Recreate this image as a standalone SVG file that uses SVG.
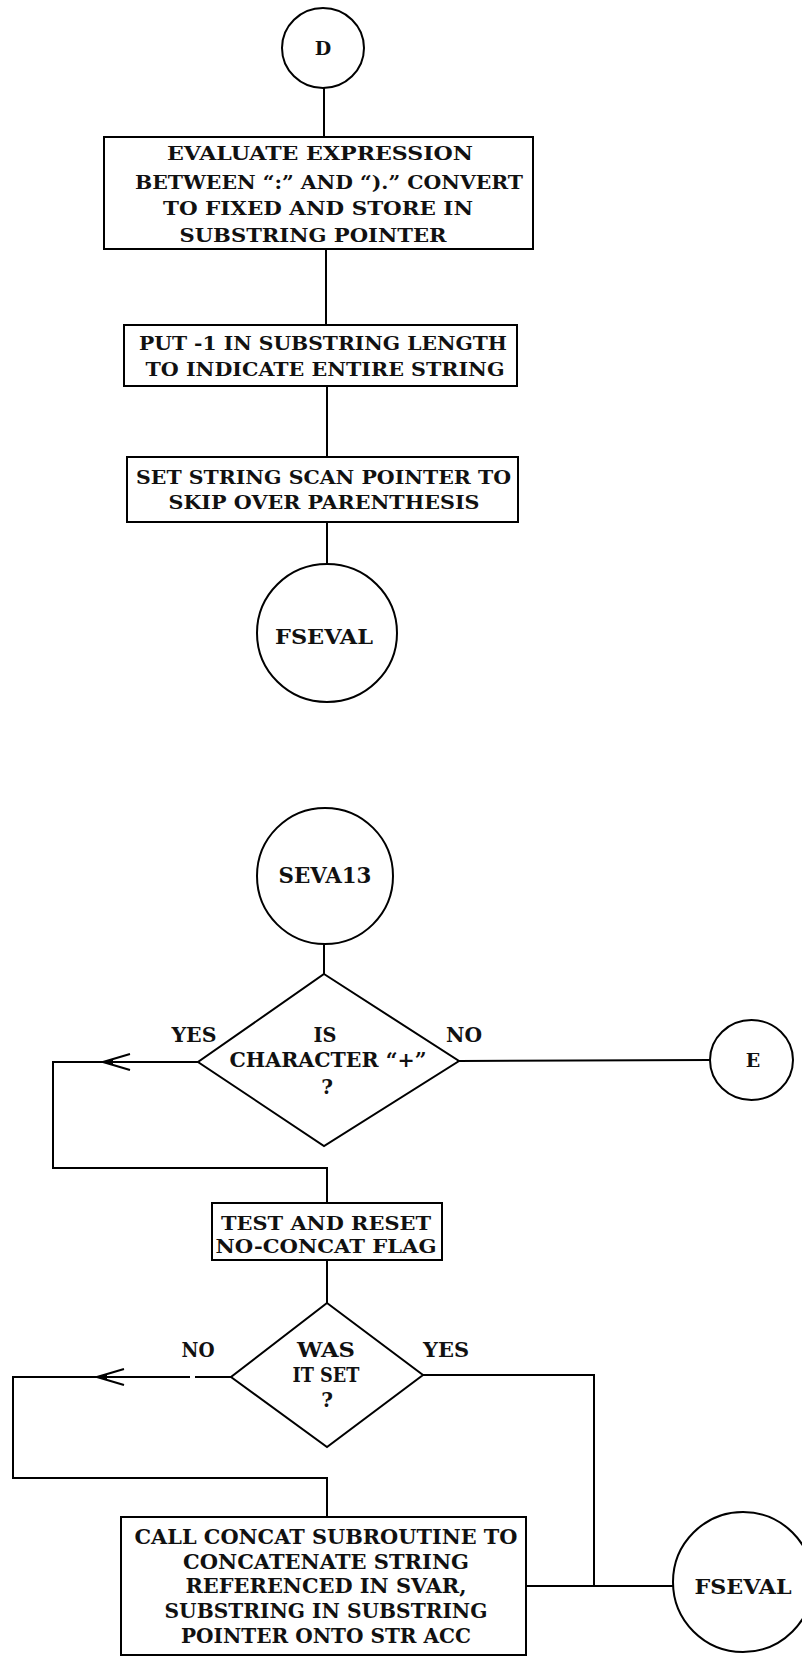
<svg xmlns="http://www.w3.org/2000/svg" width="802" height="1657" viewBox="0 0 802 1657">
<style>
.s{fill:none;stroke:#000;stroke-width:2}
.n{fill:#fff;stroke:#000;stroke-width:2}
text{font-family:"DejaVu Serif","Liberation Serif",serif;font-weight:bold;fill:#111;text-anchor:middle}
.t19{font-size:19px}
.t20{font-size:20px}
.t22{font-size:22px}
</style>
<defs>
<marker id="arr" markerUnits="userSpaceOnUse" markerWidth="30" markerHeight="20" viewBox="0 0 30 20" refX="28" refY="10" orient="auto">
<path d="M1,2 L28,10 L1,18" fill="none" stroke="#000" stroke-width="2"/>
<path d="M18,7 L28,10 L18,13 Z" fill="#000"/>
</marker>
</defs>
<rect x="0" y="0" width="802" height="1657" fill="#fff"/>
<g id="connectors">
<path class="s" d="M324,88 L324,137"/>
<path class="s" d="M326,249 L326,325"/>
<path class="s" d="M327,386 L327,457"/>
<path class="s" d="M327,522 L327,563"/>
<path class="s" d="M324,944 L324,974"/>
<path class="s" d="M198,1062 L103,1062" marker-end="url(#arr)"/>
<path class="s" d="M103,1062 L53,1062 L53,1168 L327,1168 L327,1203"/>
<path class="s" d="M459,1061 L710,1060"/>
<path class="s" d="M327,1260 L327,1303"/>
<path class="s" d="M231,1377 L195,1377"/>
<path class="s" d="M190,1377 L97,1377" marker-end="url(#arr)"/>
<path class="s" d="M97,1377 L13,1377 L13,1478 L327,1478 L327,1517"/>
<path class="s" d="M423,1375 L594,1375 L594,1586"/>
<path class="s" d="M526,1586 L673,1586"/>
</g>
<g id="nodeD">
<ellipse class="n" cx="323" cy="48" rx="41" ry="40"/>
<text class="t19" x="323" y="55">D</text>
</g>
<g id="evalBox">
<rect class="n" x="104" y="137" width="429" height="112"/>
<text class="t19" x="320" y="160" textLength="306" lengthAdjust="spacingAndGlyphs">EVALUATE EXPRESSION</text>
<text class="t19" x="329" y="189" textLength="388" lengthAdjust="spacingAndGlyphs">BETWEEN “:” AND “).” CONVERT</text>
<text class="t19" x="318" y="215" textLength="310" lengthAdjust="spacingAndGlyphs">TO FIXED AND STORE IN</text>
<text class="t19" x="313" y="242" textLength="267" lengthAdjust="spacingAndGlyphs">SUBSTRING POINTER</text>
</g>
<g id="putBox">
<rect class="n" x="124" y="325" width="393" height="61"/>
<text class="t19" x="323" y="350" textLength="368" lengthAdjust="spacingAndGlyphs">PUT -1 IN SUBSTRING LENGTH</text>
<text class="t19" x="325" y="376" textLength="359" lengthAdjust="spacingAndGlyphs">TO INDICATE ENTIRE STRING</text>
</g>
<g id="setBox">
<rect class="n" x="127" y="457" width="391" height="65"/>
<text class="t19" x="323.5" y="484" textLength="375" lengthAdjust="spacingAndGlyphs">SET STRING SCAN POINTER TO</text>
<text class="t19" x="324" y="509" textLength="311" lengthAdjust="spacingAndGlyphs">SKIP OVER PARENTHESIS</text>
</g>
<g id="fseval1">
<ellipse class="n" cx="327" cy="633" rx="70" ry="69"/>
<text class="t20" x="324" y="644" textLength="98" lengthAdjust="spacingAndGlyphs">FSEVAL</text>
</g>
<g id="seva13">
<ellipse class="n" cx="325" cy="876" rx="68" ry="68"/>
<text class="t22" x="325" y="883" textLength="93" lengthAdjust="spacingAndGlyphs">SEVA13</text>
</g>
<g id="decision1">
<path class="n" d="M324,974 L459,1061 L324,1146 L198,1062 Z"/>
<text class="t20" x="325" y="1042" textLength="23" lengthAdjust="spacingAndGlyphs">IS</text>
<text class="t20" x="328" y="1067" textLength="197" lengthAdjust="spacingAndGlyphs">CHARACTER “+”</text>
<text class="t20" x="327" y="1094">?</text>
<text class="t20" x="194" y="1042" textLength="45" lengthAdjust="spacingAndGlyphs">YES</text>
<text class="t20" x="464" y="1042" textLength="36" lengthAdjust="spacingAndGlyphs">NO</text>
</g>
<g id="nodeE">
<ellipse class="n" cx="751.5" cy="1060" rx="41.5" ry="40"/>
<text class="t19" x="753" y="1067">E</text>
</g>
<g id="testBox">
<rect class="n" x="212" y="1203" width="230" height="57"/>
<text class="t19" x="326" y="1230" textLength="210" lengthAdjust="spacingAndGlyphs">TEST AND RESET</text>
<text class="t19" x="326" y="1253" textLength="221" lengthAdjust="spacingAndGlyphs">NO-CONCAT FLAG</text>
</g>
<g id="decision2">
<path class="n" d="M327,1303 L423,1375 L327,1447 L231,1377 Z"/>
<text class="t20" x="326" y="1357" textLength="58" lengthAdjust="spacingAndGlyphs">WAS</text>
<text class="t20" x="326" y="1382" textLength="67" lengthAdjust="spacingAndGlyphs">IT SET</text>
<text class="t20" x="327" y="1407">?</text>
<text class="t20" x="198" y="1357" textLength="33" lengthAdjust="spacingAndGlyphs">NO</text>
<text class="t20" x="446" y="1357" textLength="46" lengthAdjust="spacingAndGlyphs">YES</text>
</g>
<g id="concatBox">
<rect class="n" x="121" y="1517" width="405" height="138"/>
<text class="t20" x="326" y="1544" textLength="383" lengthAdjust="spacingAndGlyphs">CALL CONCAT SUBROUTINE TO</text>
<text class="t20" x="326" y="1569" textLength="286" lengthAdjust="spacingAndGlyphs">CONCATENATE STRING</text>
<text class="t20" x="326" y="1593" textLength="281" lengthAdjust="spacingAndGlyphs">REFERENCED IN SVAR,</text>
<text class="t20" x="326" y="1618" textLength="323" lengthAdjust="spacingAndGlyphs">SUBSTRING IN SUBSTRING</text>
<text class="t20" x="326" y="1643" textLength="290" lengthAdjust="spacingAndGlyphs">POINTER ONTO STR ACC</text>
</g>
<g id="fseval2">
<ellipse class="n" cx="743" cy="1582" rx="70" ry="70"/>
<text class="t20" x="743" y="1594" textLength="97" lengthAdjust="spacingAndGlyphs">FSEVAL</text>
</g>
</svg>
